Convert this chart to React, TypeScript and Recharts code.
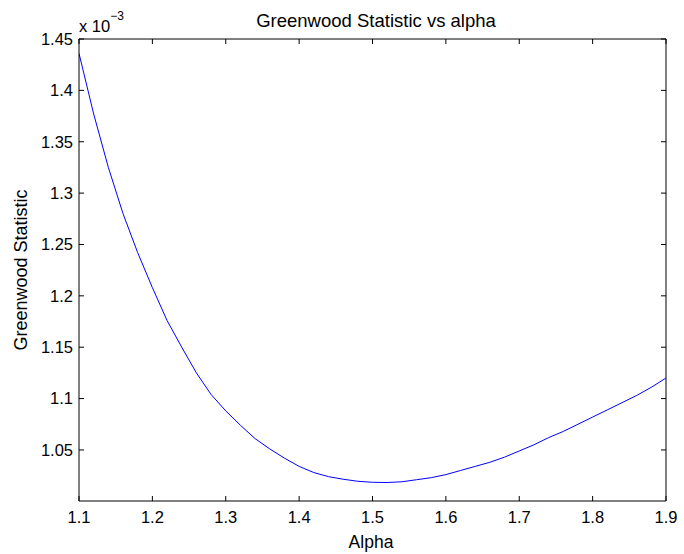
import { LineChart, Line, XAxis, YAxis, ReferenceLine } from "recharts";

const alpha = [
  1.1, 1.12, 1.14, 1.16, 1.18, 1.2, 1.22, 1.24, 1.26, 1.28, 1.3, 1.32, 1.34, 1.36,
  1.38, 1.4, 1.42, 1.44, 1.46, 1.48, 1.5, 1.52, 1.54, 1.56, 1.58, 1.6, 1.62, 1.64,
  1.66, 1.68, 1.7, 1.72, 1.74, 1.76, 1.78, 1.8, 1.82, 1.84, 1.86, 1.88, 1.9,
];

// Greenwood statistic, in units of 1e-3
const greenwood = [
  1.436, 1.377, 1.325, 1.28, 1.242, 1.208, 1.176, 1.15, 1.125, 1.104, 1.088, 1.074,
  1.061, 1.051, 1.042, 1.034, 1.028, 1.024, 1.0215, 1.0195, 1.0185, 1.0183, 1.019,
  1.021, 1.023, 1.026, 1.03, 1.034, 1.038, 1.043, 1.049, 1.055, 1.062, 1.068, 1.075,
  1.082, 1.089, 1.096, 1.103, 1.111, 1.12,
];

const xTicks = [1.1, 1.2, 1.3, 1.4, 1.5, 1.6, 1.7, 1.8, 1.9];
const yTicks = [1.05, 1.1, 1.15, 1.2, 1.25, 1.3, 1.35, 1.4, 1.45];

const data = alpha.map((a, i) => ({ a, g: greenwood[i] }));

const fmt = (v: number) => String(Number(v.toFixed(2)));
const font = "'Liberation Sans', Arial, Helvetica, sans-serif";

// plot box (matches the chart margins below)
const TOP = 39;
const BOTTOM = 501;
const LEFT = 79;
const RIGHT = 666;
const TICK = 5;

function XTick({ x, y, payload }: any) {
  return (
    <g>
      <line x1={x} x2={x} y1={BOTTOM} y2={BOTTOM - TICK} stroke="#000" />
      <line x1={x} x2={x} y1={TOP} y2={TOP + TICK} stroke="#000" />
      <text x={x} y={y} dy="0.71em" textAnchor="middle" fontSize={16.5} fill="#000" fontFamily={font}>
        {fmt(payload.value)}
      </text>
    </g>
  );
}

function YTick({ x, y, payload }: any) {
  return (
    <g>
      <line x1={LEFT} x2={LEFT + TICK} y1={y} y2={y} stroke="#000" />
      <line x1={RIGHT} x2={RIGHT - TICK} y1={y} y2={y} stroke="#000" />
      <text x={x} y={y} dy="0.355em" textAnchor="end" fontSize={16.5} fill="#000" fontFamily={font}>
        {fmt(payload.value)}
      </text>
    </g>
  );
}

function Labels() {
  return (
    <g fontFamily={font} fill="#000">
      <text x={376} y={27} textAnchor="middle" fontSize={18.5}>
        Greenwood Statistic vs alpha
      </text>
      <text x={27} y={270} transform="rotate(-90, 27, 270)" textAnchor="middle" fontSize={18}>
        Greenwood Statistic
      </text>
      <text x={79} y={32} fontSize={16.5}>
        x 10
        <tspan fontSize={12} dy={-12}>
          −3
        </tspan>
      </text>
      <text x={371} y={548} textAnchor="middle" fontSize={17.5}>
        Alpha
      </text>
    </g>
  );
}

export default function App() {
  return (
    <div style={{ position: "absolute", left: 0, top: 0, background: "#fff" }}>
      <LineChart
        width={684}
        height={554}
        data={data}
        margin={{ top: TOP, right: 684 - RIGHT, bottom: 0, left: 0 }}
        style={{ fontFamily: font }}
      >
        <XAxis
          xAxisId="bottom"
          dataKey="a"
          type="number"
          domain={[1.1, 1.9]}
          ticks={xTicks}
          height={554 - BOTTOM}
          stroke="#000"
          tickSize={0}
          tickMargin={10}
          tickLine={false}
          tick={<XTick />}
          allowDataOverflow
        />
        <YAxis
          yAxisId="left"
          type="number"
          domain={[1.0003, 1.45]}
          ticks={yTicks}
          width={LEFT}
          stroke="#000"
          tickSize={0}
          tickMargin={6}
          tickLine={false}
          tick={<YTick />}
          allowDataOverflow
          label={{ content: () => <Labels /> }}
        />
        <ReferenceLine xAxisId="bottom" yAxisId="left" x={1.9} stroke="#000" ifOverflow="visible" />
        <ReferenceLine xAxisId="bottom" yAxisId="left" y={1.45} stroke="#000" ifOverflow="visible" />
        <Line
          xAxisId="bottom"
          yAxisId="left"
          dataKey="g"
          type="linear"
          stroke="#0000ff"
          strokeWidth={1}
          dot={false}
          isAnimationActive={false}
        />
      </LineChart>
    </div>
  );
}
